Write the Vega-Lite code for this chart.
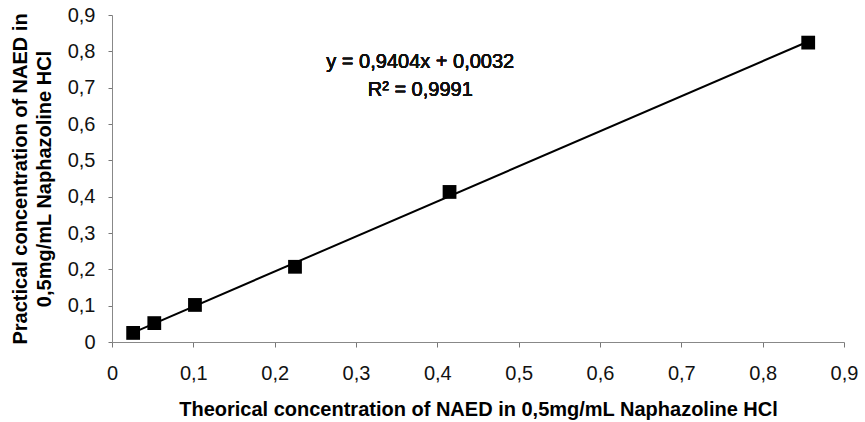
{
  "$schema": "https://vega.github.io/schema/vega-lite/v6.json",
  "width": 732,
  "height": 327,
  "autosize": "none",
  "padding": {"left": 112, "top": 15, "right": 21, "bottom": 80},
  "background": "white",
  "config": {
    "view": {"stroke": null},
    "font": "Liberation Sans",
    "axis": {
      "grid": false,
      "domainColor": "#888888",
      "tickColor": "#777777",
      "labelFont": "Liberation Sans",
      "labelFontSize": 20,
      "labelColor": "#111111",
      "labelOverlap": false,
      "titleFont": "Liberation Sans",
      "titleFontSize": 20,
      "titleFontWeight": "bold",
      "titleColor": "#000000"
    }
  },
  "data": {
    "values": [
      {"x": 0.026, "y": 0.025},
      {"x": 0.052, "y": 0.052},
      {"x": 0.102, "y": 0.102},
      {"x": 0.225, "y": 0.207},
      {"x": 0.415, "y": 0.413},
      {"x": 0.856, "y": 0.824}
    ]
  },
  "layer": [
    {
      "mark": {"type": "point", "shape": "square", "filled": true, "color": "black", "opacity": 1, "size": 190},
      "encoding": {
        "x": {
          "field": "x", "type": "quantitative",
          "scale": {"domain": [0, 0.9], "nice": false, "zero": true},
          "axis": {
            "values": [0, 0.1, 0.2, 0.3, 0.4, 0.5, 0.6, 0.7, 0.8, 0.9],
            "labelExpr": "datum.value == 0 ? '0' : replace(format(datum.value, '.1f'), '.', ',')",
            "labelFontSize": 20, "labelOverlap": false, "labelFlush": false,
            "tickSize": 5, "labelPadding": 16,
            "title": "Theorical concentration of NAED in 0,5mg/mL Naphazoline HCl",
            "titleFontSize": 20, "titlePadding": 16
          }
        },
        "y": {
          "field": "y", "type": "quantitative",
          "scale": {"domain": [0, 0.9], "nice": false, "zero": true},
          "axis": {
            "values": [0, 0.1, 0.2, 0.3, 0.4, 0.5, 0.6, 0.7, 0.8, 0.9],
            "labelExpr": "datum.value == 0 ? '0' : replace(format(datum.value, '.1f'), '.', ',')",
            "labelFontSize": 20, "labelOverlap": false, "labelFlush": false,
            "tickSize": 4, "labelPadding": 13,
            "title": ["Practical concentration of NAED in", "0,5mg/mL Naphazoline HCl"],
            "titleFontSize": 20, "titlePadding": 13, "titleLineHeight": 24
          }
        }
      }
    },
    {
      "transform": [{"regression": "y", "on": "x"}],
      "mark": {"type": "line", "color": "black", "strokeWidth": 2},
      "encoding": {
        "x": {
          "field": "x", "type": "quantitative",
          "scale": {"domain": [0, 0.9], "nice": false, "zero": true},
          "axis": {
            "values": [0, 0.1, 0.2, 0.3, 0.4, 0.5, 0.6, 0.7, 0.8, 0.9],
            "labelExpr": "datum.value == 0 ? '0' : replace(format(datum.value, '.1f'), '.', ',')",
            "labelFontSize": 20, "labelOverlap": false, "labelFlush": false,
            "tickSize": 5, "labelPadding": 16,
            "title": "Theorical concentration of NAED in 0,5mg/mL Naphazoline HCl",
            "titleFontSize": 20, "titlePadding": 16
          }
        },
        "y": {
          "field": "y", "type": "quantitative",
          "scale": {"domain": [0, 0.9], "nice": false, "zero": true},
          "axis": {
            "values": [0, 0.1, 0.2, 0.3, 0.4, 0.5, 0.6, 0.7, 0.8, 0.9],
            "labelExpr": "datum.value == 0 ? '0' : replace(format(datum.value, '.1f'), '.', ',')",
            "labelFontSize": 20, "labelOverlap": false, "labelFlush": false,
            "tickSize": 4, "labelPadding": 13,
            "title": ["Practical concentration of NAED in", "0,5mg/mL Naphazoline HCl"],
            "titleFontSize": 20, "titlePadding": 13, "titleLineHeight": 24
          }
        }
      }
    },
    {
      "mark": {"type": "text", "fontSize": 20, "fontWeight": "normal", "font": "Liberation Sans", "color": "#111111", "lineHeight": 28, "align": "center", "baseline": "middle"},
      "encoding": {
        "x": {
          "datum": 0.379, "type": "quantitative",
          "scale": {"domain": [0, 0.9], "nice": false, "zero": true},
          "axis": {
            "values": [0, 0.1, 0.2, 0.3, 0.4, 0.5, 0.6, 0.7, 0.8, 0.9],
            "labelExpr": "datum.value == 0 ? '0' : replace(format(datum.value, '.1f'), '.', ',')",
            "labelFontSize": 20, "labelOverlap": false, "labelFlush": false,
            "tickSize": 5, "labelPadding": 16,
            "title": "Theorical concentration of NAED in 0,5mg/mL Naphazoline HCl",
            "titleFontSize": 20, "titlePadding": 16
          }
        },
        "y": {
          "datum": 0.771, "type": "quantitative",
          "scale": {"domain": [0, 0.9], "nice": false, "zero": true},
          "axis": {
            "values": [0, 0.1, 0.2, 0.3, 0.4, 0.5, 0.6, 0.7, 0.8, 0.9],
            "labelExpr": "datum.value == 0 ? '0' : replace(format(datum.value, '.1f'), '.', ',')",
            "labelFontSize": 20, "labelOverlap": false, "labelFlush": false,
            "tickSize": 4, "labelPadding": 13,
            "title": ["Practical concentration of NAED in", "0,5mg/mL Naphazoline HCl"],
            "titleFontSize": 20, "titlePadding": 13, "titleLineHeight": 24
          }
        },
        "text": {"value": ["y = 0,9404x + 0,0032", "R² = 0,9991"]}
      }
    }
  ]
}
